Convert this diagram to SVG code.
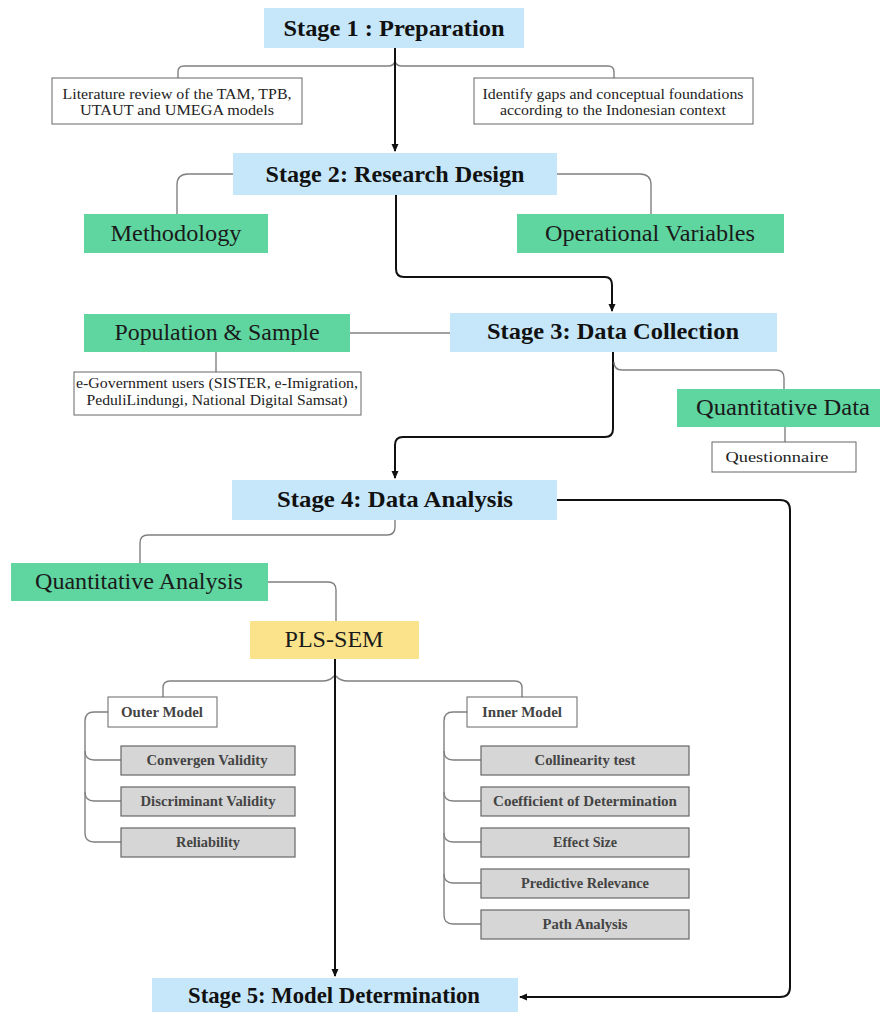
<svg xmlns="http://www.w3.org/2000/svg" width="880" height="1012" viewBox="0 0 880 1012">
<defs>
<marker id="ah" markerWidth="8" markerHeight="8" refX="7" refY="4" orient="auto" markerUnits="userSpaceOnUse"><path d="M0,0.5 L8,4 L0,7.5 Z" fill="#111"/></marker>
<style>
.stage{fill:#c6e7fa}
.green{fill:#5fd5a0}
.yellow{fill:#fbe38b}
.wbox{fill:#fff;stroke:#666;stroke-width:1}
.gbox{fill:#d6d6d6;stroke:#666;stroke-width:1.2}
.st{font-family:"Liberation Serif",serif;font-weight:bold;font-size:24px;fill:#111;text-anchor:middle}
.gt{font-family:"Liberation Serif",serif;font-size:24px;fill:#1a1a1a;text-anchor:middle}
.sm{font-family:"Liberation Serif",serif;font-size:15px;fill:#222;text-anchor:middle}
.it{font-family:"Liberation Serif",serif;font-weight:bold;font-size:15px;fill:#444;text-anchor:middle}
.thin{fill:none;stroke:#808080;stroke-width:1.4}
.main{fill:none;stroke:#111;stroke-width:2}
</style>
</defs>
<rect width="880" height="1012" fill="#fff"/>
<g id="connectors">
<path class="thin" d="M178,78 V72 Q178,66 184,66 H388 Q394,66 395,61"/>
<path class="thin" d="M614,78 V72 Q614,66 608,66 H402 Q396,66 395,61"/>
<path class="main" d="M395,48 V151" marker-end="url(#ah)"/>
<path class="thin" d="M233,174 H188 Q177,174 177,185 V214"/>
<path class="thin" d="M557,174 H640 Q651,174 651,185 V214"/>
<path class="main" d="M396,195 V269 Q396,277 404,277 H605 Q612,277 612,285 V311" marker-end="url(#ah)"/>
<path class="thin" d="M450,333 H350"/>
<path class="thin" d="M216,352 V372"/>
<path class="main" d="M613,352 V429 Q613,437 605,437 H403 Q395,437 395,445 V478" marker-end="url(#ah)"/>
<path class="thin" d="M614,362 Q614,370 622,370 H776 Q784,370 784,378 V389"/>
<path class="thin" d="M785,427 V442"/>
<path class="main" d="M557,500 H780 Q790,500 790,510 V987 Q790,997 780,997 H520" marker-end="url(#ah)"/>
<path class="thin" d="M395,520 V527 Q395,535 387,535 H148 Q140,535 140,543 V563"/>
<path class="thin" d="M268,582 H328 Q336,582 336,590 V621"/>
<path class="thin" d="M163,697 V688 Q163,681 170,681 H322 Q330,681 334,676"/>
<path class="thin" d="M522,697 V688 Q522,681 515,681 H348 Q340,681 336,676"/>
<path class="main" d="M335,659 V976" marker-end="url(#ah)"/>
<path class="thin" d="M108,712 H94 Q85,712 85,721 V751 Q85,760 94,760 H121"/>
<path class="thin" d="M85,751 V792 Q85,801 94,801 H121"/>
<path class="thin" d="M85,792 V833 Q85,842 94,842 H121"/>
<path class="thin" d="M467,712 H453 Q444,712 444,721 V751 Q444,760 453,760 H481"/>
<path class="thin" d="M444,751 V792 Q444,801 453,801 H481"/>
<path class="thin" d="M444,792 V833 Q444,842 453,842 H481"/>
<path class="thin" d="M444,833 V874 Q444,883 453,883 H481"/>
<path class="thin" d="M444,874 V915 Q444,924 453,924 H481"/>
</g>
<g id="stage1"><rect class="stage" x="264" y="8" width="260" height="40"/><text class="st" x="394" y="36" textLength="221" lengthAdjust="spacingAndGlyphs">Stage 1 : Preparation</text></g>
<g id="lit"><rect class="wbox" x="52" y="78" width="250" height="46"/><text class="sm" x="177" y="99" textLength="229" lengthAdjust="spacingAndGlyphs">Literature review of the TAM, TPB,</text><text class="sm" x="177" y="115" textLength="194" lengthAdjust="spacingAndGlyphs">UTAUT and UMEGA models</text></g>
<g id="gaps"><rect class="wbox" x="474" y="78" width="279" height="46"/><text class="sm" x="613" y="99" textLength="261" lengthAdjust="spacingAndGlyphs">Identify gaps and conceptual foundations</text><text class="sm" x="613" y="115" textLength="226" lengthAdjust="spacingAndGlyphs">according to the Indonesian context</text></g>
<g id="stage2"><rect class="stage" x="233" y="153" width="324" height="42"/><text class="st" x="395" y="182" textLength="259" lengthAdjust="spacingAndGlyphs">Stage 2: Research Design</text></g>
<g id="methodology"><rect class="green" x="84" y="214" width="184" height="39"/><text class="gt" x="176" y="241" textLength="131" lengthAdjust="spacingAndGlyphs">Methodology</text></g>
<g id="opvars"><rect class="green" x="517" y="214" width="267" height="39"/><text class="gt" x="650" y="241" textLength="210" lengthAdjust="spacingAndGlyphs">Operational Variables</text></g>
<g id="stage3"><rect class="stage" x="450" y="313" width="327" height="39"/><text class="st" x="613" y="339" textLength="252" lengthAdjust="spacingAndGlyphs">Stage 3: Data Collection</text></g>
<g id="population"><rect class="green" x="84" y="314" width="266" height="38"/><text class="gt" x="217" y="340" textLength="205" lengthAdjust="spacingAndGlyphs">Population &amp; Sample</text></g>
<g id="egov"><rect class="wbox" x="74" y="372" width="287" height="43"/><text class="sm" x="217" y="388" textLength="282" lengthAdjust="spacingAndGlyphs">e-Government users (SISTER, e-Imigration,</text><text class="sm" x="217" y="405" textLength="261" lengthAdjust="spacingAndGlyphs">PeduliLindungi, National Digital Samsat)</text></g>
<g id="quantdata"><rect class="green" x="677" y="389" width="203" height="38"/><text class="gt" x="783" y="415" textLength="174" lengthAdjust="spacingAndGlyphs">Quantitative Data</text></g>
<g id="questionnaire"><rect class="wbox" x="712" y="442" width="144" height="30"/><text class="sm" x="777" y="462" textLength="103" lengthAdjust="spacingAndGlyphs">Questionnaire</text></g>
<g id="stage4"><rect class="stage" x="232" y="480" width="325" height="40"/><text class="st" x="395" y="507" textLength="236" lengthAdjust="spacingAndGlyphs">Stage 4: Data Analysis</text></g>
<g id="quantanalysis"><rect class="green" x="11" y="563" width="257" height="38"/><text class="gt" x="139" y="589" textLength="208" lengthAdjust="spacingAndGlyphs">Quantitative Analysis</text></g>
<g id="plssem"><rect class="yellow" x="250" y="621" width="169" height="38"/><text class="gt" x="334" y="647" textLength="99" lengthAdjust="spacingAndGlyphs">PLS-SEM</text></g>
<g id="outer"><rect class="wbox" x="108" y="697" width="109" height="30"/><text class="it" x="162" y="717" textLength="82" lengthAdjust="spacingAndGlyphs">Outer Model</text></g>
<g id="inner"><rect class="wbox" x="467" y="697" width="110" height="30"/><text class="it" x="522" y="717" textLength="80" lengthAdjust="spacingAndGlyphs">Inner Model</text></g>
<g id="convergen"><rect class="gbox" x="121" y="746" width="174" height="29"/><text class="it" x="207" y="765" textLength="121" lengthAdjust="spacingAndGlyphs">Convergen Validity</text></g>
<g id="discriminant"><rect class="gbox" x="121" y="787" width="174" height="29"/><text class="it" x="208" y="806" textLength="135" lengthAdjust="spacingAndGlyphs">Discriminant Validity</text></g>
<g id="reliability"><rect class="gbox" x="121" y="828" width="174" height="29"/><text class="it" x="208" y="847" textLength="64" lengthAdjust="spacingAndGlyphs">Reliability</text></g>
<g id="collinearity"><rect class="gbox" x="481" y="746" width="208" height="29"/><text class="it" x="585" y="765" textLength="101" lengthAdjust="spacingAndGlyphs">Collinearity test</text></g>
<g id="coefficient"><rect class="gbox" x="481" y="787" width="208" height="29"/><text class="it" x="585" y="806" textLength="184" lengthAdjust="spacingAndGlyphs">Coefficient of Determination</text></g>
<g id="effect"><rect class="gbox" x="481" y="828" width="208" height="29"/><text class="it" x="585" y="847" textLength="64" lengthAdjust="spacingAndGlyphs">Effect Size</text></g>
<g id="predictive"><rect class="gbox" x="481" y="869" width="208" height="29"/><text class="it" x="585" y="888" textLength="128" lengthAdjust="spacingAndGlyphs">Predictive Relevance</text></g>
<g id="path"><rect class="gbox" x="481" y="910" width="208" height="29"/><text class="it" x="585" y="929" textLength="85" lengthAdjust="spacingAndGlyphs">Path Analysis</text></g>
<g id="stage5"><rect class="stage" x="152" y="978" width="366" height="34"/><text class="st" x="334" y="1003" textLength="292" lengthAdjust="spacingAndGlyphs">Stage 5: Model Determination</text></g>
</svg>
